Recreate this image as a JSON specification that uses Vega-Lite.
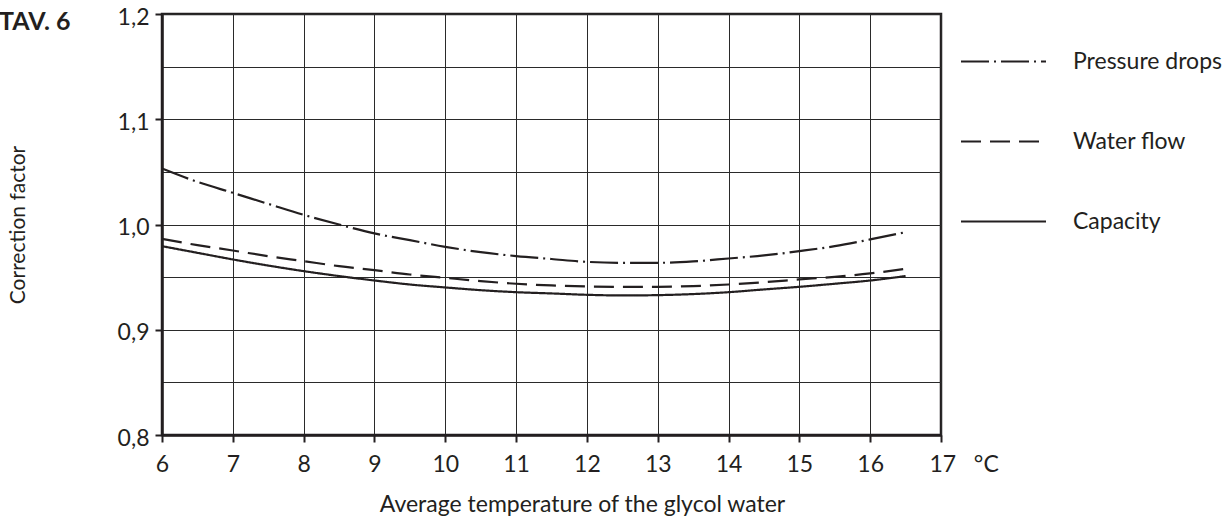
{
  "$schema": "https://vega.github.io/schema/vega-lite/v6.json",
  "width": 779,
  "height": 421,
  "autosize": {"type": "none"},
  "padding": {"left": 162, "top": 14, "right": 291, "bottom": 88},
  "background": "white",
  "datasets": {
    "curves": [
      {"t": 6, "v": 1.0532, "s": "Pressure drops"},
      {"t": 6.5, "v": 1.0405, "s": "Pressure drops"},
      {"t": 7, "v": 1.0301, "s": "Pressure drops"},
      {"t": 7.5, "v": 1.0196, "s": "Pressure drops"},
      {"t": 8, "v": 1.0092, "s": "Pressure drops"},
      {"t": 8.5, "v": 1.0, "s": "Pressure drops"},
      {"t": 9, "v": 0.9915, "s": "Pressure drops"},
      {"t": 9.5, "v": 0.9851, "s": "Pressure drops"},
      {"t": 10, "v": 0.9788, "s": "Pressure drops"},
      {"t": 10.5, "v": 0.9737, "s": "Pressure drops"},
      {"t": 11, "v": 0.970, "s": "Pressure drops"},
      {"t": 11.5, "v": 0.9672, "s": "Pressure drops"},
      {"t": 12, "v": 0.9645, "s": "Pressure drops"},
      {"t": 12.5, "v": 0.9636, "s": "Pressure drops"},
      {"t": 13, "v": 0.9636, "s": "Pressure drops"},
      {"t": 13.5, "v": 0.9649, "s": "Pressure drops"},
      {"t": 14, "v": 0.9677, "s": "Pressure drops"},
      {"t": 14.5, "v": 0.9706, "s": "Pressure drops"},
      {"t": 15, "v": 0.9747, "s": "Pressure drops"},
      {"t": 15.5, "v": 0.9794, "s": "Pressure drops"},
      {"t": 16, "v": 0.9858, "s": "Pressure drops"},
      {"t": 16.5, "v": 0.9927, "s": "Pressure drops"},
      {"t": 6, "v": 0.9864, "s": "Water flow"},
      {"t": 6.5, "v": 0.9804, "s": "Water flow"},
      {"t": 7, "v": 0.9753, "s": "Water flow"},
      {"t": 7.5, "v": 0.9699, "s": "Water flow"},
      {"t": 8, "v": 0.9652, "s": "Water flow"},
      {"t": 8.5, "v": 0.9604, "s": "Water flow"},
      {"t": 9, "v": 0.9566, "s": "Water flow"},
      {"t": 9.5, "v": 0.9525, "s": "Water flow"},
      {"t": 10, "v": 0.9493, "s": "Water flow"},
      {"t": 10.5, "v": 0.9462, "s": "Water flow"},
      {"t": 11, "v": 0.9437, "s": "Water flow"},
      {"t": 11.5, "v": 0.9421, "s": "Water flow"},
      {"t": 12, "v": 0.9411, "s": "Water flow"},
      {"t": 12.5, "v": 0.9408, "s": "Water flow"},
      {"t": 13, "v": 0.9408, "s": "Water flow"},
      {"t": 13.5, "v": 0.9415, "s": "Water flow"},
      {"t": 14, "v": 0.943, "s": "Water flow"},
      {"t": 14.5, "v": 0.9452, "s": "Water flow"},
      {"t": 15, "v": 0.9478, "s": "Water flow"},
      {"t": 15.5, "v": 0.9503, "s": "Water flow"},
      {"t": 16, "v": 0.9535, "s": "Water flow"},
      {"t": 16.5, "v": 0.9579, "s": "Water flow"},
      {"t": 6, "v": 0.9794, "s": "Capacity"},
      {"t": 6.5, "v": 0.9731, "s": "Capacity"},
      {"t": 7, "v": 0.9668, "s": "Capacity"},
      {"t": 7.5, "v": 0.961, "s": "Capacity"},
      {"t": 8, "v": 0.9557, "s": "Capacity"},
      {"t": 8.5, "v": 0.951, "s": "Capacity"},
      {"t": 9, "v": 0.9468, "s": "Capacity"},
      {"t": 9.5, "v": 0.943, "s": "Capacity"},
      {"t": 10, "v": 0.9402, "s": "Capacity"},
      {"t": 10.5, "v": 0.9376, "s": "Capacity"},
      {"t": 11, "v": 0.9357, "s": "Capacity"},
      {"t": 11.5, "v": 0.9345, "s": "Capacity"},
      {"t": 12, "v": 0.9332, "s": "Capacity"},
      {"t": 12.5, "v": 0.9326, "s": "Capacity"},
      {"t": 13, "v": 0.9329, "s": "Capacity"},
      {"t": 13.5, "v": 0.9339, "s": "Capacity"},
      {"t": 14, "v": 0.9357, "s": "Capacity"},
      {"t": 14.5, "v": 0.9383, "s": "Capacity"},
      {"t": 15, "v": 0.9408, "s": "Capacity"},
      {"t": 15.5, "v": 0.9437, "s": "Capacity"},
      {"t": 16, "v": 0.9468, "s": "Capacity"},
      {"t": 16.5, "v": 0.951, "s": "Capacity"}
    ],
    "heading": [{"label": "TAV. 6"}]
  },
  "layer": [
    {
      "data": {"name": "curves"},
      "mark": {"type": "line", "interpolate": "monotone", "color": "#231f20", "strokeWidth": 2.2},
      "encoding": {
        "x": {
          "field": "t", "type": "quantitative",
          "scale": {"domain": [6, 17], "nice": false, "zero": false},
          "axis": {
            "values": [6, 6.5, 7, 7.5, 8, 8.5, 9, 9.5, 10, 10.5, 11, 11.5, 12, 12.5, 13, 13.5, 14, 14.5, 15, 15.5, 16, 16.5, 17],
            "labelExpr": "datum.value % 1 == 0 ? (datum.value == 17 ? '17\u00a0\u00a0\u00a0°C' : format(datum.value, 'd')) : ''",
            "labelAlign": {"condition": {"test": "datum.value == 17", "value": "left"}, "value": "center"},
            "labelOffset": {"condition": {"test": "datum.value == 17", "value": -12}, "value": 0},
            "tickOpacity": {"condition": {"test": "datum.value % 1 != 0", "value": 0}, "value": 1},
            "labelPadding": 11,
            "title": "Average temperature of the glycol water",
            "titleX": 420,
            "titleFontSize": 23,
            "titlePadding": 17
          }
        },
        "y": {
          "field": "v", "type": "quantitative",
          "scale": {"domain": [0.8, 1.2], "nice": false, "zero": false},
          "axis": {
            "values": [0.8, 0.85, 0.9, 0.95, 1.0, 1.05, 1.1, 1.15, 1.2],
            "labelExpr": "round(datum.value * 100) % 10 == 0 ? replace(format(datum.value, '.1f'), '.', ',') : ''",
            "tickOpacity": {"condition": {"test": "round(datum.value * 100) % 10 != 0", "value": 0}, "value": 1},
            "labelOffset": 3,
            "title": "Correction factor",
            "titlePadding": 89
          }
        },
        "strokeDash": {
          "field": "s", "type": "nominal",
          "scale": {"domain": ["Pressure drops", "Water flow", "Capacity"], "range": [[28, 5, 2, 5], [20, 9], [1, 0]]},
          "legend": {
            "title": null,
            "orient": "none",
            "legendX": 798,
            "legendY": 4,
            "symbolType": "stroke",
            "symbolSize": 7225,
            "symbolStrokeWidth": 2,
            "symbolStrokeColor": "#231f20",
            "labelOffset": 26,
            "rowPadding": 24
          }
        }
      }
    },
    {
      "data": {"name": "heading"},
      "mark": {"type": "text", "clip": false, "align": "left", "baseline": "alphabetic", "font": "Lato", "fontSize": 25, "fontWeight": "bold", "color": "#231f20"},
      "encoding": {
        "x": {"datum": 3.7, "type": "quantitative"},
        "y": {"datum": 1.1848, "type": "quantitative"},
        "text": {"field": "label", "type": "nominal"}
      }
    }
  ],
  "config": {
    "font": "Lato",
    "view": {"stroke": "#231f20", "strokeWidth": 2.5},
    "axis": {
      "domainColor": "#231f20",
      "domainWidth": 2.5,
      "tickColor": "#231f20",
      "tickWidth": 2,
      "tickSize": 7,
      "labelPadding": 6,
      "labelFont": "Lato",
      "labelFontSize": 23,
      "labelColor": "#231f20",
      "titleFont": "Lato",
      "titleFontSize": 21,
      "titleFontWeight": "normal",
      "titleColor": "#231f20",
      "grid": true,
      "gridColor": "#2a2a2a",
      "gridWidth": 1,
      "gridOpacity": 1
    },
    "legend": {
      "labelFont": "Lato",
      "labelFontSize": 23,
      "labelColor": "#231f20"
    }
  }
}
